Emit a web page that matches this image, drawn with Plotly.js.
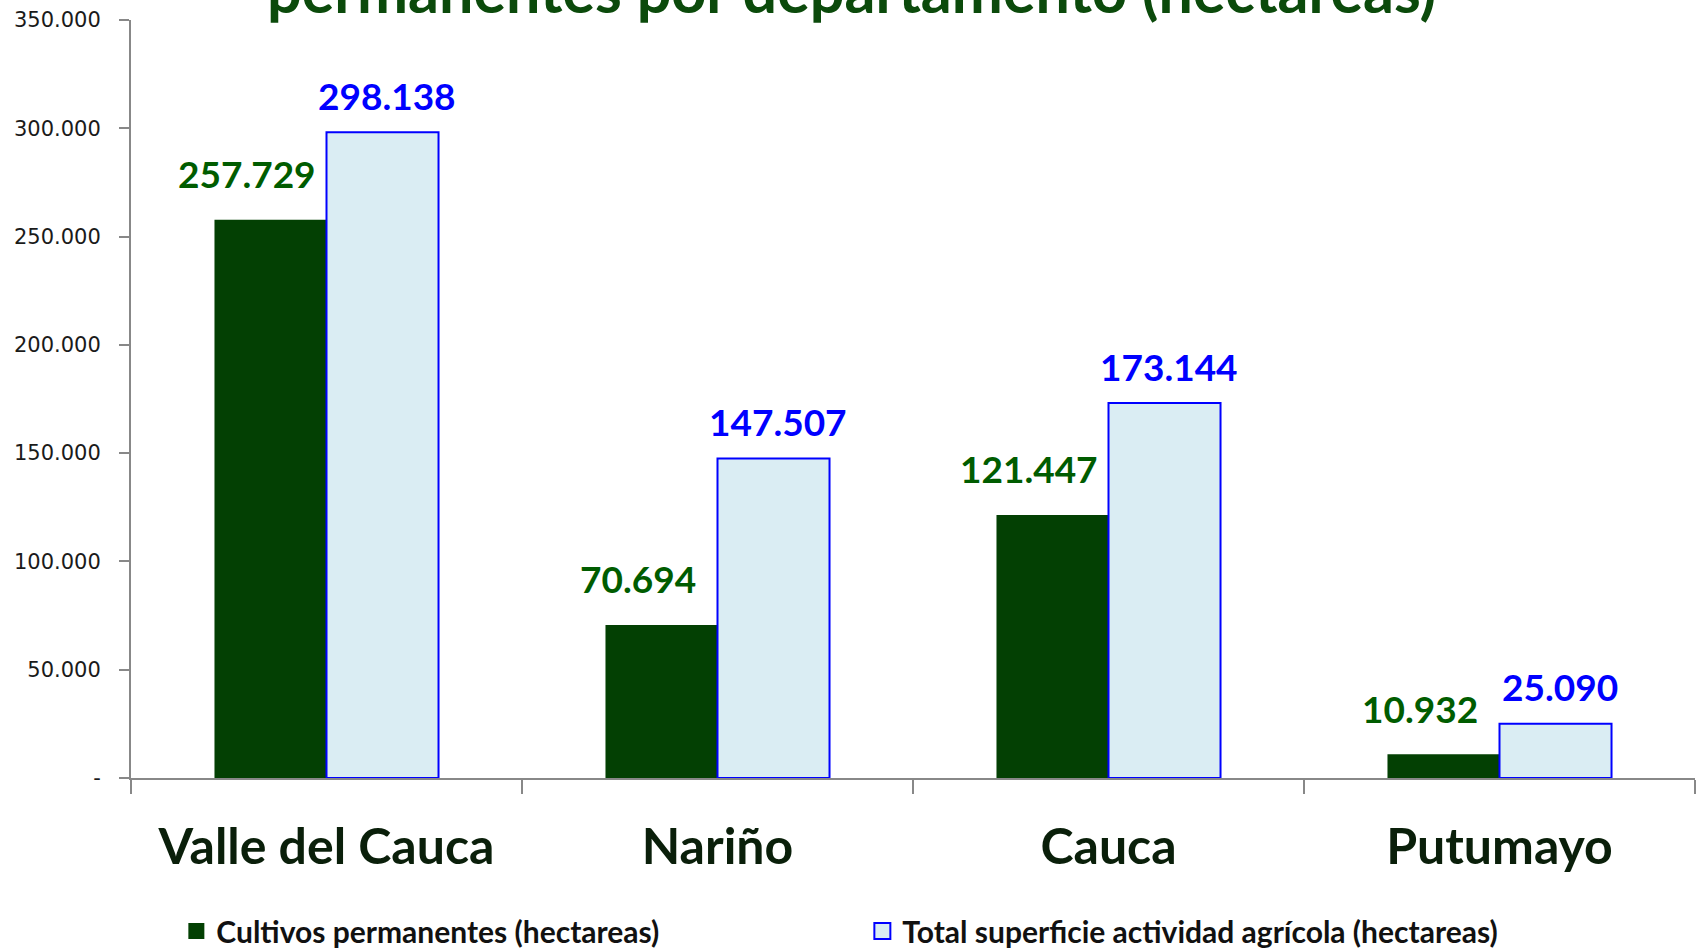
<!DOCTYPE html>
<html>
<head>
<meta charset="utf-8">
<script src="https://cdn.plot.ly/plotly-3.0.1.min.js"></script>
<style>html,body{margin:0;padding:0;background:#fff;}#chart{width:1698px;height:948px;}</style>
</head>
<body>
<div id="chart"></div>
<script>
const categories = ["Valle del Cauca", "Nariño", "Cauca", "Putumayo"];
const cultivosPermanentes = [257729, 70694, 121447, 10932];
const totalSuperficie = [298138, 147507, 173144, 25090];
const seriesNames = ["Cultivos permanentes (hectareas)", "Total superficie actividad agrícola (hectareas)"];
const yTickVals = [0, 50000, 100000, 150000, 200000, 250000, 300000, 350000];
const yTickText = ["-", "50.000", "100.000", "150.000", "200.000", "250.000", "300.000", "350.000"];
const titleText = "permanentes por departamento (hectareas)";

const greenFill = "#034003";
const blueFill = "#daedf3";
const blueLine = "#0000ff";

function fmt(v) {
  return String(v).replace(/\B(?=(\d{3})+(?!\d))/g, ".");
}

const traces = [
  {
    type: "bar", name: seriesNames[0], x: categories, y: cultivosPermanentes,
    marker: {color: greenFill, line: {width: 0}},
    hoverinfo: "none", showlegend: false
  },
  {
    type: "bar", name: seriesNames[1], x: categories, y: totalSuperficie,
    marker: {color: blueFill, line: {color: blueLine, width: 2}},
    hoverinfo: "none", showlegend: false
  },
  {
    type: "scatter", mode: "markers", name: seriesNames[0], x: [categories[0]], y: [null],
    marker: {symbol: "square", size: 17, color: greenFill, line: {width: 0}},
    hoverinfo: "none", showlegend: true
  },
  {
    type: "scatter", mode: "markers", name: seriesNames[1], x: [categories[0]], y: [null],
    marker: {symbol: "square", size: 17, color: blueFill, line: {color: blueLine, width: 2}},
    hoverinfo: "none", showlegend: true
  }
];

const annotations = [];
categories.forEach((c, i) => {
  annotations.push({
    x: c, y: cultivosPermanentes[i], xref: "x", yref: "y",
    text: fmt(cultivosPermanentes[i]), showarrow: false,
    xshift: -80, yshift: 46, yanchor: "middle", xanchor: "center",
    font: {family: "Lato", size: 37, weight: 700, color: "#005c00"}
  });
  annotations.push({
    x: c, y: totalSuperficie[i], xref: "x", yref: "y",
    text: fmt(totalSuperficie[i]), showarrow: false,
    xshift: 60, yshift: 37, yanchor: "middle", xanchor: "center",
    font: {family: "Lato", size: 37, weight: 700, color: "#0000ff"}
  });
});
annotations.push({
  x: 0.4604, y: 1, xref: "paper", yref: "paper", xanchor: "center", yanchor: "bottom",
  yshift: -8, showarrow: false, text: titleText,
  font: {family: "Lato", size: 61, weight: 700, color: "#0b4a0b"}
});

const layout = {
  width: 1698, height: 948,
  margin: {l: 131, r: 3, t: 20, b: 170, autoexpand: false},
  paper_bgcolor: "#ffffff", plot_bgcolor: "#ffffff",
  barmode: "group", bargap: 0.427, bargroupgap: 0,
  showlegend: true,
  legend: {
    orientation: "h", x: 0.029, xanchor: "left", xref: "paper",
    y: 0.0179, yanchor: "middle", yref: "container",
    entrywidth: 641, traceorder: "normal", itemsizing: "trace",
    font: {family: "Lato", size: 30, weight: 700, color: "#111111"}
  },
  xaxis: {
    type: "category", range: [-0.5, 3.5],
    showline: true, linecolor: "#888888", linewidth: 2,
    ticks: "outside", tickson: "boundaries", ticklen: 14, tickcolor: "#888888", tickwidth: 2,
    ticklabelstandoff: 24,
    tickfont: {family: "Lato", size: 50, weight: 700, color: "#0a1f0a"},
    showgrid: false, zeroline: false, fixedrange: true
  },
  yaxis: {
    range: [0, 350000], tickvals: yTickVals, ticktext: yTickText,
    showline: true, linecolor: "#888888", linewidth: 2,
    ticks: "outside", ticklen: 10, tickcolor: "#888888", tickwidth: 2,
    ticklabelstandoff: 14,
    tickfont: {family: "DejaVu Sans", size: 21, color: "#1a1a1a"},
    showgrid: false, zeroline: false, fixedrange: true
  },
  annotations: annotations
};

Plotly.newPlot("chart", traces, layout, {displayModeBar: false, staticPlot: true});
</script>
</body>
</html>
